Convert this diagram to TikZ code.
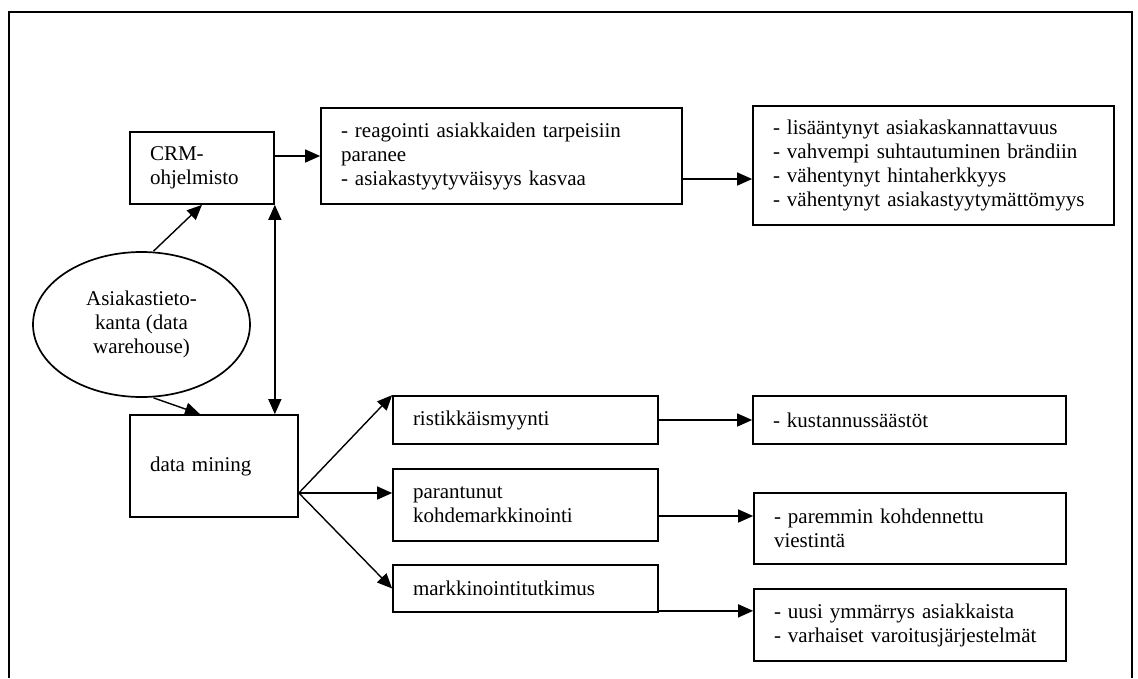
\documentclass[tikz,border=0pt]{standalone}
\usepackage{fontspec}
\setmainfont{Liberation Serif}
\usepackage{tikz}
\usetikzlibrary{calc,arrows.meta,shapes.geometric}
\newcommand{\unitsize}{1pt}
\tikzset{
	box/.style={draw, line width=1.7pt, inner xsep=20pt, inner ysep=0pt, align=left,
		font=\fontsize{21}{24}\selectfont},
	arr/.style={line width=1.4pt, -{Triangle[length=15pt,width=13pt]}},
}

\begin{document}
\begin{tikzpicture}[x=\unitsize,y=-\unitsize]
	\useasboundingbox (0,0) rectangle (1138,678);
	\draw[line width=1.3pt] (9,678) -- (9,12) -- (1132,12) -- (1132,678);

	\node[box, text width=104pt, minimum height=72pt] (crm) at (202,168) {CRM-\\ohjelmisto};
	\node[box, text width=321pt, minimum height=96pt] (reag) at (501.5,156)
		{- reagointi asiakkaiden tarpeisiin\\paranee\\- asiakastyytyväisyys kasvaa};
	\node[box, text width=321pt, minimum height=119pt] (lisa) at (933.5,165.5)
		{- lisääntynyt asiakaskannattavuus\\- vahvempi suhtautuminen brändiin\\- vähentynyt hintaherkkyys\\- vähentynyt asiakastyytymättömyys};
	\node[draw, line width=1.7pt, ellipse, minimum width=217pt, minimum height=145pt, inner sep=0pt,
		align=center, font=\fontsize{21}{24}\selectfont] (db) at (141.5,324.5)
		{Asiakastieto-\\kanta (data\\warehouse)};
	\node[box, text width=128pt, minimum height=102pt] (dm) at (214,466) {data mining};
	\node[box, text width=225pt, minimum height=48pt] (rist) at (525.5,420) {ristikkäismyynti};
	\node[box, text width=225pt, minimum height=72pt] (par) at (525.5,505) {parantunut\\kohdemarkkinointi};
	\node[box, text width=225pt, minimum height=47pt] (mark) at (525.5,588.5) {markkinointitutkimus};
	\node[box, text width=273pt, minimum height=48pt] (kust) at (909.5,420) {- kustannussäästöt};
	\node[box, text width=272pt, minimum height=71pt] (parem) at (910,528.5) {- paremmin kohdennettu\\viestintä};
	\node[box, text width=272pt, minimum height=72pt] (uusi) at (910,625)
		{- uusi ymmärrys asiakkaista\\- varhaiset varoitusjärjestelmät};

	\coordinate (fan) at ([yshift=-27pt]dm.east);

	\draw[arr] (crm.east |- reag.west) -- (reag.west);
	\draw[arr] ([yshift=-23pt]reag.east) -- ([yshift=-23pt]reag.east -| lisa.west);
	\draw[arr] ([xshift=12pt]db.north) -- (crm.south);
	\draw[arr] ([xshift=12pt]db.south) -- ([xshift=-14pt]dm.north);
	\draw[arr, {Triangle[length=15pt,width=13pt]}-{Triangle[length=15pt,width=13pt]}]
		(crm.south east) -- (crm.south east |- dm.north);
	\draw[arr] (fan) -- (rist.north west);
	\draw[arr] (fan) -- (fan -| par.west);
	\draw[arr] (fan) -- (mark.west);
	\draw[arr] (rist.east) -- (kust.west);
	\draw[arr] ([yshift=-11pt]par.east) -- ([yshift=-11pt]par.east -| parem.west);
	\draw[arr] ([yshift=2pt]mark.south east) -- ([yshift=2pt]mark.south east -| uusi.west);
\end{tikzpicture}
\end{document}
